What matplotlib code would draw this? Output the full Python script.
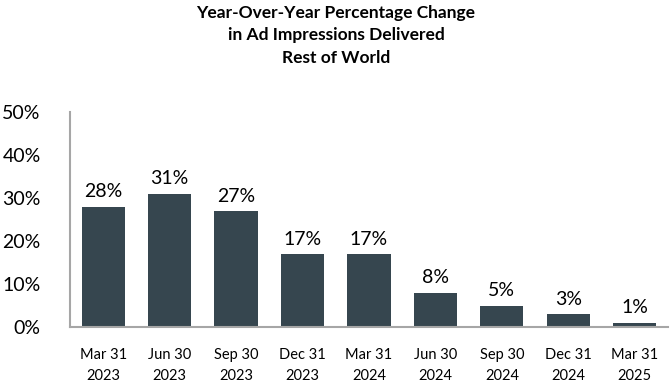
import matplotlib.pyplot as plt
import numpy as np

categories = ['Mar 31\n2023', 'Jun 30\n2023', 'Sep 30\n2023', 'Dec 31\n2023',
              'Mar 31\n2024', 'Jun 30\n2024', 'Sep 30\n2024', 'Dec 31\n2024',
              'Mar 31\n2025']
values = [28, 31, 27, 17, 17, 8, 5, 3, 1]
yticks = [0, 10, 20, 30, 40, 50]

plt.rcParams['font.family'] = ['Lato', 'DejaVu Sans']

fig = plt.figure(figsize=(6.72, 3.84), dpi=100)
ax = fig.add_axes([0.104, 0.148, 0.89, 0.56])

x = np.arange(len(categories))
ax.bar(x, values, width=0.65, color='#36464f')
for xi, v in zip(x, values):
    ax.text(xi, v + 1.5, f'{v}%', ha='center', va='bottom', fontsize=14)

ax.set_xlim(-0.5, len(categories) - 0.5)
ax.set_ylim(0, 50)
ax.set_yticks(yticks)
ax.set_yticklabels([f'{t}%' for t in yticks], fontsize=14)
ax.set_xticks(x)
ax.set_xticklabels(categories, fontsize=10.5, linespacing=1.6)
ax.tick_params(length=0)
ax.tick_params(axis='y', pad=21)
ax.tick_params(axis='x', pad=15)

for s in ['top', 'right']:
    ax.spines[s].set_visible(False)
for s in ['left', 'bottom']:
    ax.spines[s].set_color('#a6a6a6')
    ax.spines[s].set_linewidth(1.5)

fig.text(0.5, 0.988, 'Year-Over-Year Percentage Change\nin Ad Impressions Delivered\nRest of World',
         ha='center', va='top', fontsize=12.5, fontweight='bold', linespacing=1.5)

fig.savefig('out.png', dpi=100)
